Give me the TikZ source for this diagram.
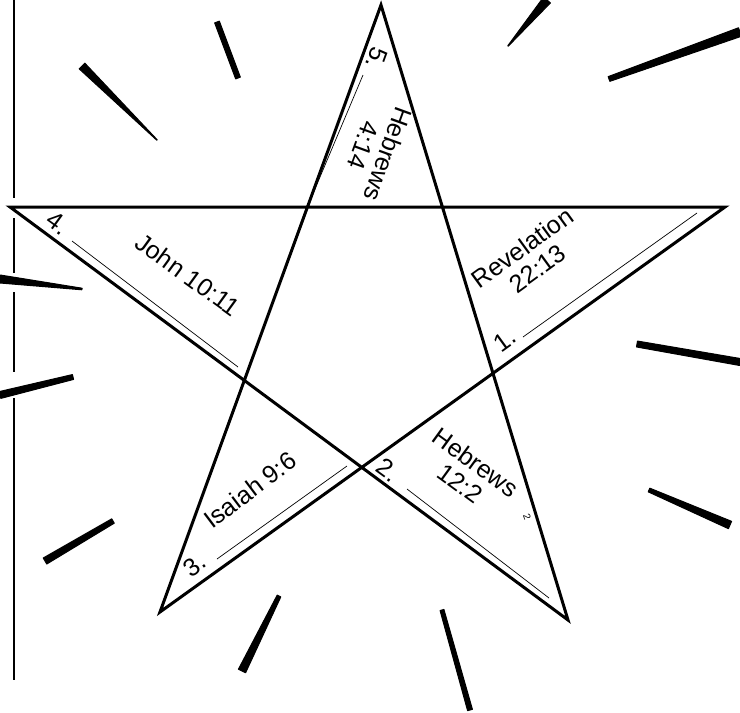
\documentclass[tikz,border=0pt]{standalone}
\usepackage{fontspec}
\setmainfont{Liberation Sans}
\usetikzlibrary{calc}

\begin{document}
\begin{tikzpicture}[x=1pt, y=-1pt]
    % Define styles
    \tikzstyle{edge} = [line width=3pt, line join=miter, line cap=butt]
    \tikzstyle{inner} = [line width=0.7pt]
    \tikzstyle{brush} = [fill=black, draw=black, line width=1pt, line join=round]
    \tikzstyle{margin} = [line width=1.2pt]
    \tikzstyle{verse} = [font=\fontsize{25}{26}\selectfont, align=center, inner sep=0pt]
    \tikzstyle{num} = [font=\fontsize{25}{26}\selectfont, inner sep=0pt]

    \useasboundingbox (0,0) rectangle (740,713);

    % Star points
    \coordinate (top) at (381,5);
    \coordinate (right) at (725,207);
    \coordinate (botright) at (568,620);
    \coordinate (botleft) at (160,612);
    \coordinate (left) at (10,207);

    % Margin line
    \draw[margin] (14,0) -- (14,198) (14,218) -- (14,273) (14,292) -- (14,372) (14,398) -- (14,680);

    % Star
    \draw[edge] (top) -- (botleft) -- (right) -- (left) -- (botright) -- cycle;

    % Thin inner lines
    \draw[inner] (363,75) -- (312,196);
    \draw[inner] (72,241) -- (238,367);
    \draw[inner] (523,337) -- (697,213);
    \draw[inner] (217,559) -- (347,466);
    \draw[inner] (407,489) -- (549,598);

    % Rays (tapered strokes)
    \foreach \ax/\ay/\bx/\by/\wa/\wb in {82/66/157/140/4pt/0.3pt, 217/22/238/78/2.5pt/2.5pt,
        547/0/508/46/4.5pt/0.3pt, 609/79/740/32/2.5pt/4.5pt, 637/344/740/362/3pt/3.5pt,
        649/490/730/525/2pt/4pt, 45/561/113/521/3.5pt/2.5pt, 279/596/242/671/2pt/4pt,
        442/610/470/710/2pt/2.5pt, 0/279/82/289/4pt/0.8pt, 0/395/73/377/3.5pt/2.5pt}
        \draw[brush] ($(\ax,\ay)!\wa!90:(\bx,\by)$) -- ($(\bx,\by)!\wb!-90:(\ax,\ay)$)
            -- ($(\bx,\by)!\wb!90:(\ax,\ay)$) -- ($(\ax,\ay)!\wa!-90:(\bx,\by)$) -- cycle;

    % Verses
    \node[num, rotate=-110] (n5) at (377,58) {5.};
    \node[verse, rotate=-110] (v5) at (376,150) {Hebrews\\4:14};
    \node[num, rotate=-36] (n4) at (58,223) {4.};
    \node[verse, rotate=-36] (v4) at (188,275) {John 10:11};
    \node[num, rotate=36] (n1) at (505,340) {1.};
    \node[verse, rotate=36] (v1) at (530,258) {Revelation\\22:13};
    \node[num, rotate=37] (n3) at (195,565) {3.};
    \node[verse, rotate=37] (v3) at (250,490) {Isaiah 9:6};
    \node[num, rotate=-36] (n2) at (388,470) {2.};
    \node[verse, rotate=-36] (v2) at (468,473) {Hebrews\\12:2};
    \node[font=\fontsize{10}{10}\selectfont, inner sep=0pt, rotate=-70] (mark) at (527,517) {2};
\end{tikzpicture}
\end{document}
